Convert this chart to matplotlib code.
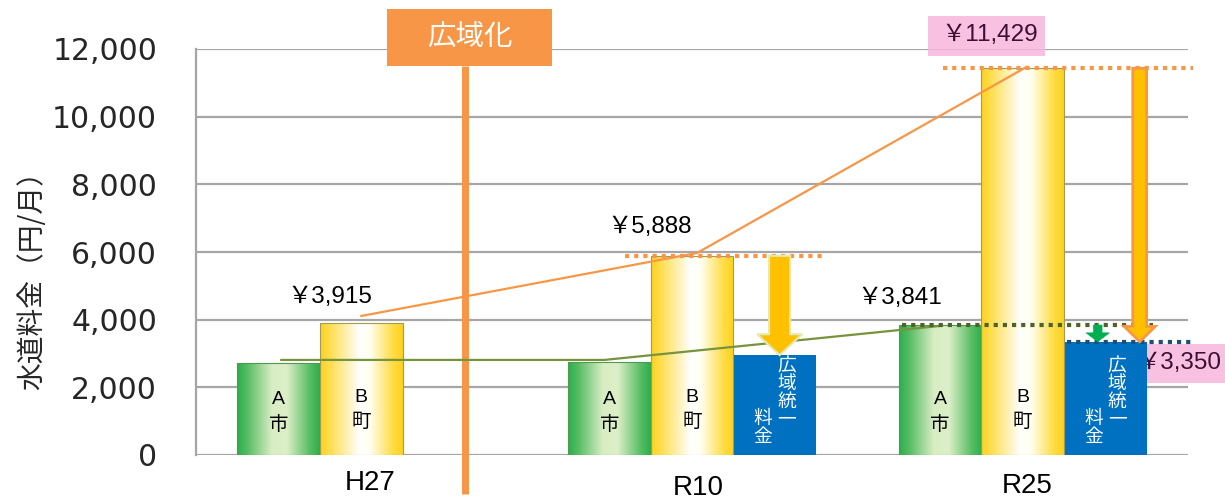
import numpy as np
import matplotlib
matplotlib.use("Agg")
import matplotlib.pyplot as plt
from matplotlib.colors import LinearSegmentedColormap
from matplotlib.patches import Rectangle, FancyArrow

# ---- data -------------------------------------------------------------
categories = ["H27", "R10", "R25"]
city_a = [2720, 2750, 3841]          # A市
town_b = [3915, 5888, 11429]         # B町
unified = [np.nan, 2950, 3350]       # 広域統一料金

# trend guide lines (x in category units, y in 円/月)
a_trend_x = [-0.242, 0.735, 1.755]
a_trend_y = [2810, 2810, 3820]
b_trend_x = [0.0, 1.015, 2.012]
b_trend_y = [4110, 5970, 11470]

yticks = [0, 2000, 4000, 6000, 8000, 10000, 12000]
ytick_labels = ["0", "2,000", "4,000", "6,000", "8,000", "10,000", "12,000"]
ylabel = "水道料金（円/月）"

JP = "Noto Sans CJK JP"
LAT = ["Liberation Sans", JP]

# ---- figure -----------------------------------------------------------
fig = plt.figure(figsize=(12.25, 5), dpi=100)
ax = fig.add_axes([196 / 1225, 1 - 455 / 500, (1188 - 196) / 1225, (455 - 49) / 500])

grid_c = "#A6A6A6"
ax.set_xlim(-0.5, 2.5)
ax.set_ylim(0, 12000)
ax.set_yticks(yticks)
ax.set_yticklabels(ytick_labels, family="DejaVu Sans")
ax.tick_params(axis="y", length=0, pad=28, labelsize=21.5, labelcolor="#262626")
ax.set_xticks([])
for s in ("top", "right", "bottom"):
    ax.spines[s].set_visible(False)
ax.spines["left"].set_color(grid_c)
ax.spines["left"].set_linewidth(1.6)
ax.yaxis.grid(True, color=grid_c, lw=1.6)
ax.set_axisbelow(True)

fig.text(32 / 1225, 1 - 274 / 500, ylabel, rotation=90, ha="center", va="center",
         fontsize=20, family=JP, color="#262626")

# ---- bars -------------------------------------------------------------
x = np.arange(len(categories))
w = 0.25

green_cmap = LinearSegmentedColormap.from_list(
    "grn", [(0, "#2BAE4D"), (0.12, "#55BC63"), (0.42, "#D8EDC4"),
            (0.6, "#DDEFC8"), (0.88, "#57BD64"), (1, "#2BAE4D")])
yellow_cmap = LinearSegmentedColormap.from_list(
    "yel", [(0, "#FFD21C"), (0.15, "#FFE15E"), (0.48, "#FFFFFF"),
            (0.6, "#FFFFF2"), (0.88, "#FFDC45"), (1, "#FFD21C")])
grad = np.linspace(0, 1, 256).reshape(1, -1)

bars_a = ax.bar(x - w, city_a, w, facecolor="none", edgecolor="#4E9A52", lw=0.8, zorder=3.2)
bars_b = ax.bar(x, town_b, w, facecolor="none", edgecolor="#A39A55", lw=0.8, zorder=3.2)
bars_u = ax.bar(x + w, unified, w, color="#0070C0", zorder=3.0)

for bars, cmap in ((bars_a, green_cmap), (bars_b, yellow_cmap)):
    for p in bars:
        x0, h = p.get_x(), p.get_height()
        im = ax.imshow(grad, cmap=cmap, extent=(x0, x0 + p.get_width(), 0, h),
                       aspect="auto", interpolation="bicubic", zorder=3.0)
        im.set_clip_path(p)
ax.set_xlim(-0.5, 2.5)
ax.set_ylim(0, 12000)

# labels inside bars (vertical writing in the unified-rate bars)
for i in range(len(categories)):
    ax.text(x[i] - w, 1250, "A\n市", ha="center", va="center", fontsize=14,
            family=LAT, linespacing=1.6, zorder=6)
    ax.text(x[i], 1330, "B\n町", ha="center", va="center", fontsize=14,
            family=LAT, linespacing=1.6, zorder=6)
    if not np.isnan(unified[i]):
        cx = x[i] + w
        ax.text(cx + 0.036, 1840, "広\n域\n統\n一", ha="center", va="center",
                fontsize=13.5, family=JP, color="white", linespacing=0.8, zorder=6)
        ax.text(cx - 0.036, 800, "料\n金", ha="center", va="center",
                fontsize=13.5, family=JP, color="white", linespacing=0.82, zorder=6)

# category labels under the axis
cat_dx = [0.027, 1.02, 2.015]
cat_off = [-20, -23.5, -22.5]
for lab, dx, off in zip(categories, cat_dx, cat_off):
    ax.annotate(lab, xy=(dx, 0), xytext=(0, off), textcoords="offset points",
                ha="center", va="center", fontsize=20, family="Liberation Sans",
                color="black", annotation_clip=False)

# ---- trend lines --------------------------------------------------------
ax.plot(b_trend_x, b_trend_y, color="#F79646", lw=1.6, zorder=5)
ax.plot(a_trend_x, a_trend_y, color="#77933C", lw=1.6, zorder=5)

# ---- dotted reference levels -------------------------------------------
dot = (0, (1, 1.2))
ax.plot([0.796, 1.392], [town_b[1]] * 2, color="#F79646", lw=3, ls=dot, zorder=5.5)
ax.plot([1.758, 2.514], [town_b[2]] * 2, color="#F79646", lw=3, ls=dot, zorder=5.5, clip_on=False)
ax.plot([1.634, 2.393], [city_a[2]] * 2, color="#4F6228", lw=3, ls=dot, zorder=5.5)
ax.plot([2.133, 2.514], [unified[2]] * 2, color="#1F4E79", lw=3, ls=dot, zorder=5.5, clip_on=False)

# ---- arrows ------------------------------------------------------------
def down_arrow(xc, y0, y1, width, head_w, head_l, fc, ec, lw):
    ax.add_patch(FancyArrow(xc, y0, 0, y1 - y0, width=width, head_width=head_w,
                            head_length=head_l, length_includes_head=True,
                            fc=fc, ec=ec, lw=lw, zorder=6))

down_arrow(1.265, town_b[1], unified[1], 0.064, 0.136, 620, "#FFC000", "#E4EAB4", 1.5)
down_arrow(2.354, town_b[2], unified[2], 0.042, 0.094, 450, "#FFC000", "#F79646", 2)
down_arrow(2.227, city_a[2], unified[2], 0.026, 0.07, 260, "#00B050", "#00B050", 0.5)

# ---- value labels ------------------------------------------------------
def yen(v):
    return f"￥{v:,.0f}"

ax.text(-0.094, 4680, yen(town_b[0]), ha="center", va="center", fontsize=17.5, family=LAT, zorder=7)
ax.text(0.871, 6730, yen(town_b[1]), ha="center", va="center", fontsize=17.5, family=LAT, zorder=7)
ax.text(1.628, 4650, yen(city_a[2]), ha="center", va="center", fontsize=17.5, family=LAT, zorder=7)

pink = "#F7B6DC"
ax.add_patch(Rectangle((1.713, 11790), 0.354, 1190, facecolor=pink, alpha=0.85,
                       edgecolor="none", zorder=6.5, clip_on=False))
ax.text(1.90, 12400, yen(town_b[2]), ha="center", va="center", fontsize=17.5,
        family=LAT, color="#3D0F35", zorder=7, clip_on=False)

ax.add_patch(Rectangle((2.361, 2130), 0.3, 1160, facecolor=pink, alpha=0.85,
                       edgecolor="none", zorder=2.7, clip_on=False))
ax.text(2.343, 2720, yen(unified[2]), ha="left", va="center", fontsize=17.5,
        family=LAT, color="#3D0F35", zorder=2.8, clip_on=False)

# ---- 広域化 marker -------------------------------------------------------
orange = "#F79646"
ax.plot([0.315, 0.315], [11500, -1160], color=orange, lw=5, solid_capstyle="butt",
        zorder=4, clip_on=False)
ax.add_patch(Rectangle((0.079, 11500), 0.499, 1690, facecolor=orange, edgecolor="none",
                       zorder=8, clip_on=False))
ax.text(0.327, 12350, "広域化", ha="center", va="center", fontsize=20.5, family=JP,
        color="white", zorder=9, clip_on=False)

fig.savefig("out.png", dpi=100)
